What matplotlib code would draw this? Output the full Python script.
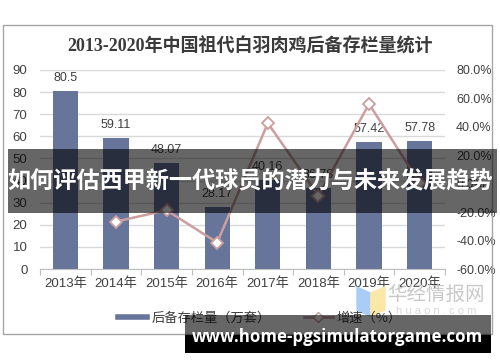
import matplotlib
matplotlib.use("Agg")
import matplotlib.pyplot as plt
from matplotlib.patches import Rectangle, Polygon
from matplotlib.lines import Line2D
import numpy as np

years = ["2013年", "2014年", "2015年", "2016年", "2017年", "2018年", "2019年", "2020年"]
stock = [80.5, 59.11, 48.07, 28.17, 40.16, 36.78, 57.42, 57.78]
stock_labels = ["80.5", "59.11", "48.07", "28.17", "40.16", "36.78", "57.42", "57.78"]
growth = [None, -0.266, -0.187, -0.414, 0.426, -0.084, 0.561, 0.006]
left_ticks = [0, 10, 20, 30, 40, 50, 60, 70, 80, 90]
right_ticks = [-0.6, -0.4, -0.2, 0.0, 0.2, 0.4, 0.6, 0.8]

title = "2013-2020年中国祖代白羽肉鸡后备存栏量统计"
banner = "如何评估西甲新一代球员的潜力与未来发展趋势"
site = "www.home-pgsimulatorgame.com"

W, H = 500, 362
fig = plt.figure(figsize=(5.0, 3.62), dpi=100)
fig.patch.set_facecolor("white")

def fx(px): return px / W
def fy(py): return 1 - py / H

SANS = ["Liberation Sans", "Noto Sans CJK SC"]
BAR = "#67759b"
LINE = "#cc9e9e"

# outer frame
fig.patches.append(Rectangle((fx(3), fy(334)), fx(489), (334 - 25) / H, transform=fig.transFigure,
                             fill=False, edgecolor="#a6a6a6", lw=1.0, zorder=1))

fig.text(0.5, fy(46), title, ha="center", va="center", fontsize=13, fontweight="bold",
         color="#3a3a3a", family=["Liberation Serif", "Noto Sans CJK SC"])

ax = fig.add_axes([fx(40), fy(269), fx(405), (269 - 70) / H])
x = np.arange(len(years))
ax.bar(x, stock, width=0.5, color=BAR, zorder=2)
for xi, v, lab in zip(x, stock, stock_labels):
    ax.annotate(lab, (xi, v), xytext=(0, 5), textcoords="offset points", ha="center", va="bottom",
                fontsize=9, color="#404040", family=SANS)
ax.set_xlim(-0.5, len(years) - 0.5)
ax.set_ylim(0, 90)
ax.set_yticks(left_ticks)
ax.grid(axis="y", color="#d9d9d9", lw=1, zorder=0)
ax.set_axisbelow(True)
for s in ["top", "right", "left"]:
    ax.spines[s].set_visible(False)
ax.spines["bottom"].set_color("#bfbfbf")
ax.tick_params(axis="y", length=0, pad=9, labelsize=9.5, labelcolor="#404040")
ax.set_xticks(np.arange(-0.5, len(years), 1.0), minor=False)
ax.set_xticklabels([])
ax.set_xticks(x, minor=True)
ax.set_xticklabels(years, minor=True, fontsize=9.5, color="#404040", family=SANS)
ax.tick_params(axis="x", which="major", length=4, color="#bfbfbf")
ax.tick_params(axis="x", which="minor", length=0, pad=6)
for t in ax.get_yticklabels():
    t.set_family(SANS)

ax2 = ax.twinx()
gx = [xi for xi, g in zip(x, growth) if g is not None]
gy = [g for g in growth if g is not None]
ax2.plot(gx, gy, color=LINE, lw=1.8, marker="D", markersize=6, markerfacecolor="white",
         markeredgecolor=LINE, markeredgewidth=1.3, zorder=3)
ax2.set_ylim(-0.6, 0.8)
ax2.set_yticks(right_ticks)
ax2.set_yticklabels([f"{t*100:.1f}%" for t in right_ticks], family=SANS)
ax2.tick_params(axis="y", length=0, pad=8, labelsize=9, labelcolor="#404040")
for s in ["top", "right", "left", "bottom"]:
    ax2.spines[s].set_visible(False)

handles = [Line2D([0], [0], color=BAR, lw=4),
           Line2D([0], [0], color=LINE, lw=1.8, marker="D", markersize=5,
                  markerfacecolor="white", markeredgecolor=LINE)]
fig.legend(handles, ["后备存栏量（万套）", "增速（%）"], loc="center", bbox_to_anchor=(0.52, fy(318)),
           ncol=2, frameon=False, prop={"family": ["Noto Sans CJK SC"], "size": 9.5},
           handlelength=2.2, columnspacing=2.5, handletextpad=0.3, labelcolor="#404040")

# logo
fig.patches.append(Polygon([[fx(357), fy(287)], [fx(370), fy(293)], [fx(370), fy(316)], [fx(357), fy(310)]],
                           closed=True, transform=fig.transFigure, color="#a9cdf5", zorder=2))
fig.patches.append(Polygon([[fx(371), fy(293)], [fx(385), fy(287)], [fx(385), fy(310)], [fx(371), fy(316)]],
                           closed=True, transform=fig.transFigure, color="#fbe7a6", zorder=2))
fig.text(fx(436), fy(294), "华经情报网", ha="center", va="center", fontsize=14, color="#c8c8c8",
         family=["Noto Sans CJK SC"])
fig.text(fx(436), fy(311), "h u a o n . c o m", ha="center", va="center", fontsize=8, color="#d8d8d8",
         family=SANS)

# banner
fig.patches.append(Rectangle((fx(8), fy(213)), fx(489), (213 - 149) / H, transform=fig.transFigure,
                             facecolor="black", alpha=0.6, lw=0, zorder=20))
fig.text(fx(250), fy(182), banner, ha="center", va="center", fontsize=16.7, fontweight="bold",
         color="white", family=["Noto Sans CJK SC"], zorder=21)

# site watermark
fig.patches.append(Rectangle((fx(185), fy(353)), fx(306), (353 - 315) / H, transform=fig.transFigure,
                             facecolor="black", alpha=0.6, lw=0, zorder=20))
fig.patches.append(Rectangle((fx(185), fy(353)), fx(306), (353 - 335) / H, transform=fig.transFigure,
                             facecolor="black", lw=0, zorder=20))
fig.text(fx(337), fy(337), site, ha="center", va="center", fontsize=12.2, fontweight="bold",
         color="white", family=["Open Sans"], zorder=21)

fig.savefig("out.png", dpi=100)
